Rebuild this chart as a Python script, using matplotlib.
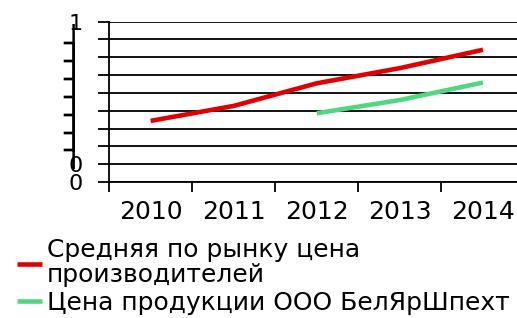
import numpy as np
import matplotlib.pyplot as plt
from matplotlib.ticker import FixedLocator

years = ['2010', '2011', '2012', '2013', '2014']
market = [3.43, 4.27, 5.54, 6.39, 7.42]
company_years = ['2012', '2013', '2014']
company = [3.86, 4.6, 5.58]
ytick_labels = ['0', '0', '┤', '┤', '┤', '┤', '┤', '┤', '┤', '1']

plt.rcParams['font.family'] = ['DejaVu Sans']

fig = plt.figure(figsize=(5.17, 3.18), dpi=100)
ax = fig.add_axes([0.211, 0.4277, 0.789, 0.5043])

x = np.arange(len(years))
xc = [years.index(y) for y in company_years]
ax.plot(x, market, color='#e00000', lw=3.3, solid_capstyle='butt',
        label='Средняя по рынку цена\nпроизводителей')
ax.plot(xc, company, color='#50d880', lw=3.3, solid_capstyle='butt',
        label='Цена продукции ООО БелЯрШпехт')

ax.set_xlim(-0.5, 4.41)
ax.set_ylim(0, 9)
ax.set_yticks(range(10))
ax.set_yticklabels(ytick_labels)
ax.set_xticks(x)
ax.set_xticklabels(years)
ax.xaxis.set_minor_locator(FixedLocator([-0.5, 0.5, 1.5, 2.5, 3.5]))
ax.tick_params(axis='x', which='major', length=0, pad=13, labelsize=18)
ax.tick_params(axis='x', which='minor', length=7.2, width=1.3, color='black')
ax.tick_params(axis='y', length=8, width=1.3, color='black', pad=11, labelsize=16)
for t in ax.get_yticklabels():
    if t.get_text() == '┤':
        t.set_fontsize(23)
ax.grid(axis='y', color='black', lw=1.3)
ax.set_axisbelow(True)
for s in ['top', 'right']:
    ax.spines[s].set_visible(False)
for s in ['left', 'bottom']:
    ax.spines[s].set_linewidth(1.3)

leg = fig.legend(loc='upper left', bbox_to_anchor=(0.033, 0.25), frameon=False,
                 fontsize=18, handlelength=1.0, handletextpad=0.2,
                 labelspacing=0.15, borderpad=0, borderaxespad=0)
for t in leg.get_texts():
    t.set_linespacing(1.05)

fig.savefig('out.png', dpi=100)
